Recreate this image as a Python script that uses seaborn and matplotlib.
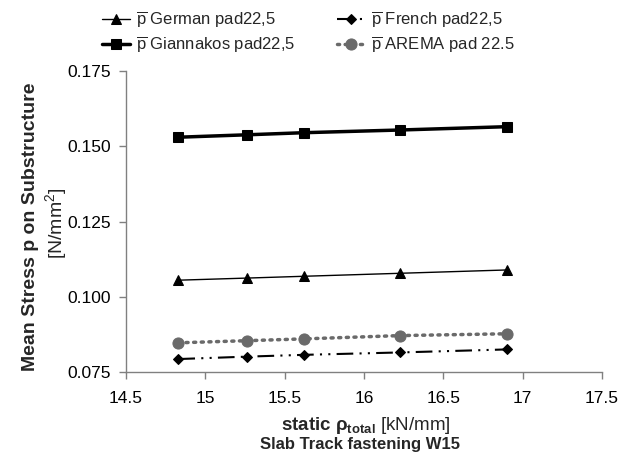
import matplotlib
matplotlib.use("Agg")
import matplotlib.pyplot as plt
import seaborn as sns
import pandas as pd

sns.set_theme(style="white")
plt.rcParams['font.family'] = ['Liberation Sans', 'DejaVu Sans']
plt.rcParams['mathtext.fontset'] = 'custom'
plt.rcParams['mathtext.rm'] = 'Liberation Sans'
plt.rcParams['mathtext.it'] = 'Liberation Sans:italic'
plt.rcParams['mathtext.bf'] = 'Liberation Sans:bold'

stiffness = [14.83, 15.26, 15.62, 16.23, 16.90]
german = [0.1055, 0.1062, 0.1068, 0.1078, 0.1089]
giannakos = [0.1530, 0.1538, 0.1545, 0.1554, 0.1565]
french = [0.0793, 0.0801, 0.0807, 0.0815, 0.0825]
arema = [0.0847, 0.0854, 0.0860, 0.0871, 0.0877]

labels = [r"$\overline{\mathrm{p}}$ German pad22,5",
          r"$\overline{\mathrm{p}}$ Giannakos pad22,5",
          r"$\overline{\mathrm{p}}$ French pad22,5",
          r"$\overline{\mathrm{p}}$ AREMA pad 22.5"]
x_ticks = [14.5, 15, 15.5, 16, 16.5, 17, 17.5]
y_ticks = [0.075, 0.100, 0.125, 0.150, 0.175]

fig = plt.figure(figsize=(6.35, 4.66), dpi=100)
ax = fig.add_axes([126/635, 1-372/466, (602-126)/635, (372-71)/466])

styles = [
    dict(y=german, color='black', lw=1.0, marker='^', ms=7, ls='-'),
    dict(y=giannakos, color='black', lw=2.5, marker='s', ms=7, ls='-'),
    dict(y=french, color='black', lw=1.5, marker='D', ms=5.5, ls=(0, (8, 3, 1, 3, 1, 3))),
    dict(y=arema, color='#6a6a6a', lw=2.5, marker='o', ms=8, ls=(0, (0.6, 1.6))),
]
handles = []
for lab, st in zip(labels, styles):
    df = pd.DataFrame({'x': stiffness, 'y': st['y']})
    sns.lineplot(data=df, x='x', y='y', ax=ax, color=st['color'], lw=st['lw'],
                 marker=st['marker'], markersize=st['ms'], linestyle=st['ls'],
                 markeredgecolor=st['color'], markerfacecolor=st['color'],
                 dash_capstyle='round' if st['marker'] == 'o' else 'butt')
    handles.append(ax.lines[-1])

ax.set_xlim(14.5, 17.5)
ax.set_ylim(0.075, 0.175)
ax.set_xticks(x_ticks)
ax.set_xticklabels([f"{v:g}" for v in x_ticks])
ax.set_yticks(y_ticks)
ax.set_yticklabels([f"{v:.3f}" for v in y_ticks])
ax.set_xlabel('')
ax.set_ylabel('')
for s in ['top', 'right']:
    ax.spines[s].set_visible(False)
for s in ['left', 'bottom']:
    ax.spines[s].set_color('#808080')
    ax.spines[s].set_linewidth(1.0)
ax.tick_params(axis='both', direction='out', length=5, width=1, color='#808080',
               labelsize=12.5, labelcolor='black', bottom=True, left=True)
ax.tick_params(axis='x', pad=9)
ax.tick_params(axis='y', pad=6)

fig.legend(handles, labels, ncol=2, loc='upper left', bbox_to_anchor=(102/635, 1-10/466),
           frameon=False, fontsize=12, borderpad=0, borderaxespad=0,
           handlelength=1.65, handletextpad=0.4, columnspacing=2.5, labelspacing=0.3)

fig.text(31/635, 1-227/466, 'Mean Stress p on Substructure', rotation=90,
         ha='center', va='center', fontsize=14, fontweight='bold')
fig.text(56/635, 1-223/466, r'[N/mm$^{2}$]', rotation=90,
         ha='center', va='center', fontsize=14)
fig.text(366/635, 1-426/466, r'$\mathbf{static\ \rho_{total}}$ [kN/mm]',
         ha='center', va='center', fontsize=13.5)
fig.text(360/635, 1-445/466, 'Slab Track fastening W15',
         ha='center', va='center', fontsize=12, fontweight='bold')

fig.savefig('out.png', dpi=100)
